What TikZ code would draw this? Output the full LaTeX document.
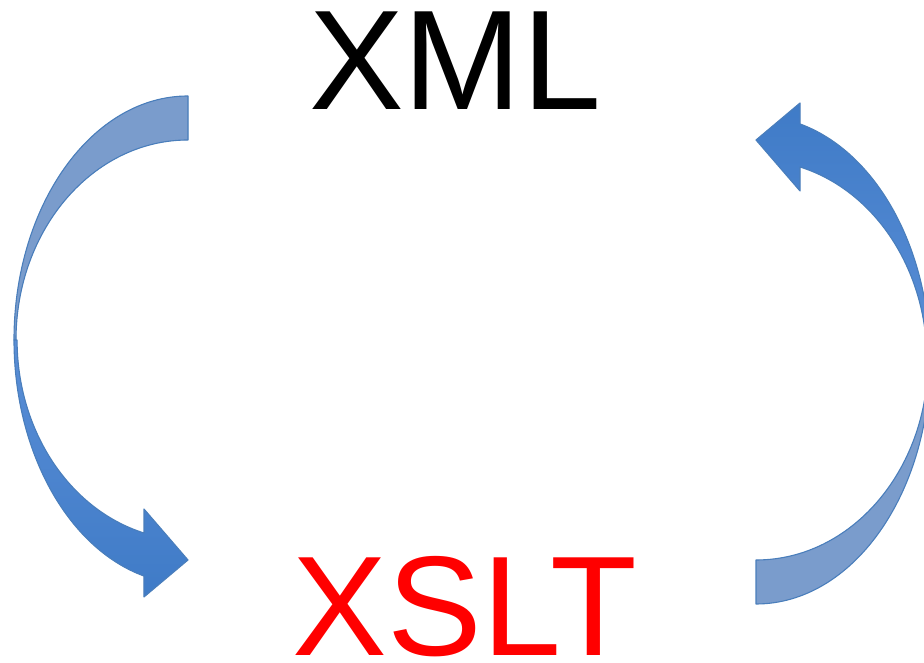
\documentclass[tikz,border=0pt]{standalone}
\usepackage{fontspec}
\setmainfont{Liberation Sans}
\begin{document}
\begin{tikzpicture}[x=1pt,y=1pt,
  backpart/.style={fill=backblue,draw=edgeblue,line width=1.1pt,line join=round},
  frontpart/.style={top color=fronttop,bottom color=frontbot,draw=edgeblue,line width=1.1pt,line join=round},
  bigtext/.style={inner sep=0pt,anchor=base,font=\fontsize{142}{142}\selectfont}]
\definecolor{backblue}{HTML}{7A9CCC}
\definecolor{edgeblue}{HTML}{4A7EBB}
\definecolor{fronttop}{HTML}{5A8ED6}
\definecolor{frontbot}{HTML}{3F7BC7}
\definecolor{xsltred}{HTML}{FF0000}
\useasboundingbox (0,0) rectangle (924,663);
% left curved arrow (XML -> XSLT)
\begin{scope}
  \fill[backblue] (188,567) arc[start angle=90,end angle=180,x radius=174,y radius=244]
     -- (16,323) arc[start angle=180,end angle=90,x radius=172,y radius=200] -- cycle;
  \draw[backpart] (188,567) arc[start angle=90,end angle=180,x radius=174,y radius=244]
     -- (16,323) arc[start angle=180,end angle=90,x radius=172,y radius=200] -- cycle;
  \draw[frontpart] (14,323) arc[start angle=180,end angle=255.3,x radius=174,y radius=244]
     -- (144,66) -- (188,103) -- (144,154) -- (144,130)
     arc[start angle=254.8,end angle=180,x radius=172,y radius=200] -- cycle;
\end{scope}
% right curved arrow (XSLT -> XML), point reflection of the left one
\begin{scope}[rotate around={180:(472,313)}]
  \draw[backpart] (188,567) arc[start angle=90,end angle=180,x radius=174,y radius=244]
     -- (16,323) arc[start angle=180,end angle=90,x radius=172,y radius=200] -- cycle;
  \draw[frontpart,top color=frontbot,bottom color=fronttop] (14,323) arc[start angle=180,end angle=255.3,x radius=174,y radius=244]
     -- (144,66) -- (188,103) -- (144,154) -- (144,130)
     arc[start angle=254.8,end angle=180,x radius=172,y radius=200] -- cycle;
\end{scope}
\node[bigtext] (xml) at (455,553) {XML};
\node[bigtext,text=xsltred] (xslt) at (465,7) {XSLT};
\end{tikzpicture}
\end{document}
